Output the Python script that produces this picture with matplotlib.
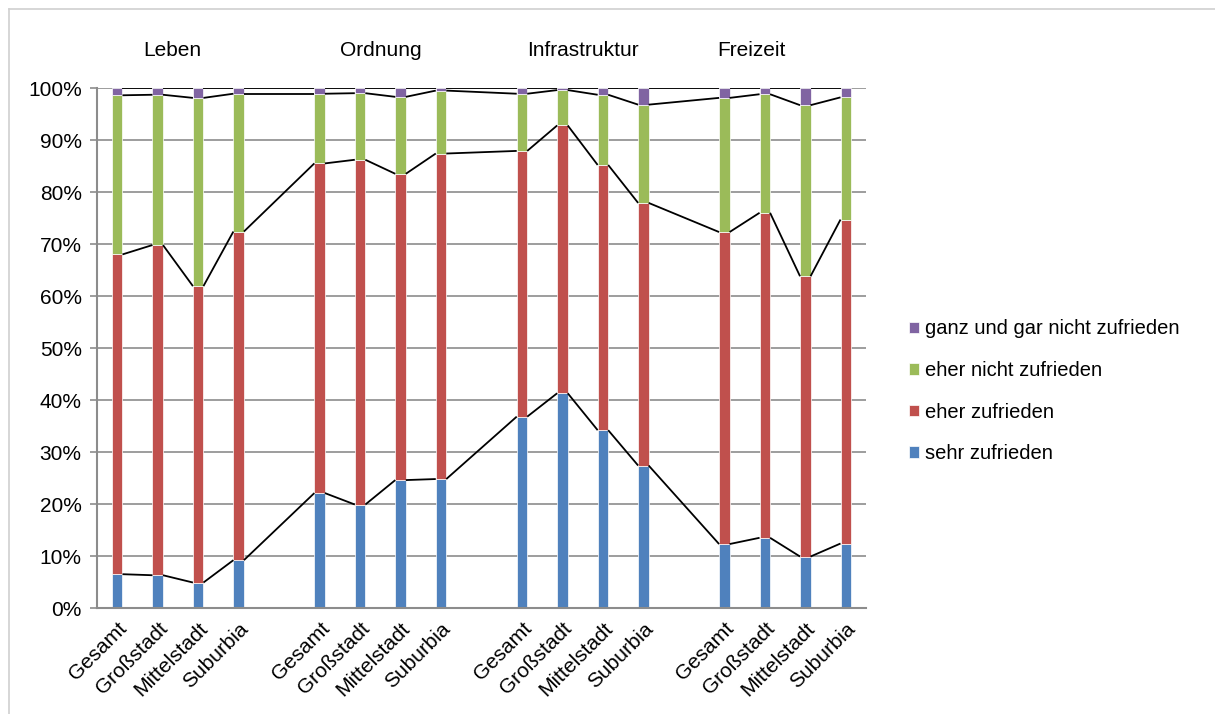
import matplotlib.pyplot as plt
import numpy as np

plt.rcParams['font.family'] = ['Liberation Sans', 'DejaVu Sans']

groups = ['Leben', 'Ordnung', 'Infrastruktur', 'Freizeit']
places = ['Gesamt', 'Großstadt', 'Mittelstadt', 'Suburbia']

# shares in percent, one value per bar (group by group)
sehr_zufrieden = [6.5, 6.3, 4.9, 9.2,
                  22.1, 19.9, 24.6, 24.8,
                  36.8, 41.3, 34.2, 27.4,
                  12.3, 13.5, 9.9, 12.4]
eher_zufrieden = [61.5, 63.5, 57.0, 63.2,
                  63.4, 66.3, 58.9, 62.6,
                  51.1, 51.5, 51.0, 50.5,
                  60.0, 62.5, 53.9, 62.3]
eher_nicht = [30.6, 28.9, 36.2, 26.5,
              13.4, 12.8, 14.8, 12.1,
              11.0, 6.8, 13.5, 18.9,
              25.8, 22.8, 32.9, 23.5]
gar_nicht = [1.4, 1.3, 1.9, 1.1,
             1.1, 1.0, 1.7, 0.5,
             1.1, 0.4, 1.3, 3.2,
             1.9, 1.2, 3.3, 1.8]

series = [
    ('sehr zufrieden', sehr_zufrieden, '#4F81BD'),
    ('eher zufrieden', eher_zufrieden, '#C0504D'),
    ('eher nicht zufrieden', eher_nicht, '#9BBB59'),
    ('ganz und gar nicht zufrieden', gar_nicht, '#8064A2'),
]

# one empty slot between the groups
xpos = np.array([g * 5 + i for g in range(len(groups)) for i in range(len(places))])
labels = places * len(groups)
width = 0.26
fs = 15

fig = plt.figure(figsize=(12.15, 7.14), dpi=100)
ax = fig.add_axes([97 / 1215, 106 / 714, 769 / 1215, 520 / 714])

grid_c = '#8c8c8c'
for v in range(10, 101, 10):
    ax.axhline(v, color=grid_c, lw=1.2, zorder=0)

bottom = np.zeros(len(xpos))
handles = []
tops = []
for name, vals, col in series:
    vals = np.array(vals)
    b = ax.bar(xpos, vals, width, bottom=bottom, color=col, edgecolor='white',
               linewidth=0.5, label=name, zorder=2)
    handles.append(b)
    bottom = bottom + vals
    tops.append(bottom.copy())

# series lines joining the tops of neighbouring bars
for top in tops:
    for k in range(len(xpos) - 1):
        ax.plot([xpos[k] + width / 2, xpos[k + 1] - width / 2], [top[k], top[k + 1]],
                color='black', lw=1.3, zorder=3, solid_capstyle='butt')

ax.set_xlim(-0.5, 18.5)
ax.set_ylim(0, 100)
ax.set_yticks(range(0, 101, 10))
ax.set_yticklabels([f'{v}%' for v in range(0, 101, 10)], fontsize=fs)
ax.set_xticks(xpos)
ax.set_xticklabels(labels, rotation=45, ha='right', va='top', rotation_mode='anchor', fontsize=fs)
ax.tick_params(axis='x', length=0, pad=8)
ax.tick_params(axis='y', length=5, width=1.2, color=grid_c, pad=6)
for s in ['top', 'right']:
    ax.spines[s].set_visible(False)
for s in ['left', 'bottom']:
    ax.spines[s].set_color(grid_c)
    ax.spines[s].set_linewidth(1.5)

title_x = [1.35, 6.52, 11.51, 15.68]
for tx, g in zip(title_x, groups):
    ax.text(tx, 1.073, g, transform=ax.get_xaxis_transform(), ha='center', va='center',
            fontsize=fs)

fig.legend(handles[::-1], [s[0] for s in series][::-1], loc='center left',
           bbox_to_anchor=(0.733, 0.452), frameon=False, fontsize=14.5,
           handlelength=0.5, handleheight=0.5, handletextpad=0.3, labelspacing=1.12)

# light frame around the chart area
frame_c = '#d0d0d0'
fig.add_artist(plt.Line2D([9 / 1215, 1], [1 - 9 / 714, 1 - 9 / 714], color=frame_c, lw=1.2))
fig.add_artist(plt.Line2D([9 / 1215, 9 / 1215], [0, 1 - 9 / 714], color=frame_c, lw=1.2))

fig.savefig('out.png', dpi=100)
